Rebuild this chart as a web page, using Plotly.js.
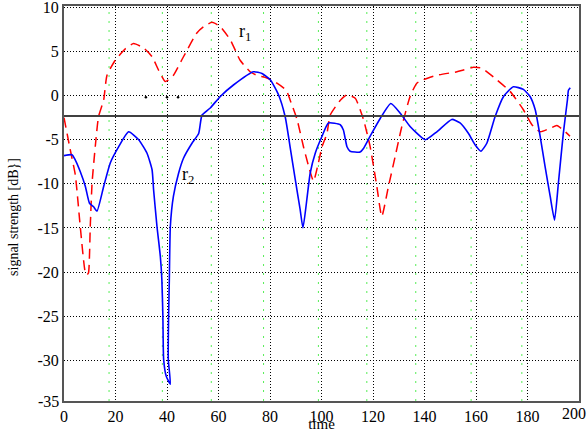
<!DOCTYPE html>
<html>
<head>
<meta charset="utf-8">
<script src="https://cdn.plot.ly/plotly-3.0.1.min.js"></script>
<style>html,body{margin:0;padding:0;background:#fff;}#chart{width:587px;height:432px;}</style>
</head>
<body>
<div id="chart"></div>
<script>
// r1 (red dashed)
const r1Time = [0, 2.4, 4.4, 6.3, 8.3, 8.9, 9.5, 10.2, 10.9, 12.2, 13.4, 15.4, 16.7, 19.9, 23.8, 27.0, 30.9, 34.2, 36.7, 39.3, 40.6, 42.5, 46.4, 51.6, 54.2, 57.5, 60.7, 64.6, 68.4, 72.3, 74.9, 78.8, 82.7, 86.3, 87.8, 90.5, 93.0, 95.0, 96.9, 98.8, 100.2, 102.1, 103.4, 107.4, 109.9, 113.1, 116.3, 118.9, 121.5, 123.4, 126.0, 128.6, 131.2, 134.4, 137.0, 139.6, 144.8, 152.6, 155.1, 159.0, 162.3, 166.8, 173.3, 178.4, 181.7, 184.9, 188.8, 191.4, 193.9, 196.5];
const r1Signal = [-2.5, -6.1, -9.0, -14.8, -20.1, -20.3, -20.1, -14.8, -9.9, -5.6, -2.4, -0.5, 2.3, 4.0, 5.3, 5.9, 5.4, 4.4, 2.9, 1.6, 1.8, 2.3, 4.4, 7.1, 7.8, 8.3, 7.8, 6.3, 4.0, 2.7, 2.3, 2.0, 1.4, 0.6, -0.5, -2.7, -5.8, -8.0, -9.7, -7.6, -5.8, -4.3, -2.2, -0.5, 0.1, -0.3, -2.7, -5.8, -10.3, -13.7, -10.3, -6.9, -3.5, -0.1, 1.4, 1.8, 2.3, 2.7, 2.9, 3.2, 3.1, 2.1, 0.45, -1.6, -3.3, -4.1, -3.7, -3.4, -3.9, -4.6];

// r2 (blue solid)
const r2Time = [0, 3.1, 4.4, 6.3, 8.3, 9.9, 11.5, 12.8, 15.4, 18.0, 21.2, 25.1, 29.0, 32.2, 34.2, 34.8, 36.1, 37.4, 38.0, 38.4, 38.7, 39.7, 41.3, 40.5, 40.6, 40.9, 41.3, 42.5, 44.5, 46.4, 49.7, 52.3, 53.6, 56.8, 60.7, 65.8, 73.6, 76.9, 80.1, 83.3, 85.9, 87.8, 89.8, 91.7, 92.8, 94.3, 95.6, 97.6, 100.2, 102.7, 107.3, 108.5, 109.9, 111.1, 115.0, 116.3, 118.9, 122.8, 126.9, 130.6, 134.4, 140.3, 144.8, 150.6, 153.8, 157.1, 159.7, 161.9, 164.2, 167.4, 170.7, 174.5, 178.4, 181.0, 183.0, 184.9, 186.8, 188.8, 190.5, 192.0, 193.9, 195.5, 195.9, 196.6];
const r2Signal = [-6.8, -6.7, -7.3, -8.6, -10.3, -12.2, -12.6, -13.1, -10.3, -7.6, -5.8, -4.1, -5.0, -6.5, -8.4, -10.7, -14.8, -18.2, -20.8, -25.0, -29.9, -31.8, -32.7, -29.9, -25.4, -20.9, -14.8, -11.4, -8.8, -7.1, -5.4, -4.3, -2.2, -1.4, -0.1, 1.2, 2.7, 2.5, 1.8, 0.1, -2.4, -5.8, -9.5, -12.9, -15.0, -11.8, -8.8, -6.5, -4.6, -3.1, -3.3, -3.9, -5.8, -6.3, -6.4, -6.0, -4.6, -2.6, -0.9, -2.0, -3.5, -5.0, -4.1, -2.7, -3.1, -4.3, -5.6, -6.3, -5.4, -2.4, -0.1, 1.0, 0.7, -0.1, -1.6, -4.6, -8.0, -11.4, -14.1, -9.9, -4.3, -0.5, 0.6, 0.9];

// small marker dots near 0 dB
const dotTime = [31.8, 40.0, 44.3];
const dotSignal = [-0.2, -0.2, -0.2];

// reference level line
const referenceLevel = -2.3;

// secondary (green) grid positions
const greenGrid = [17.5, 38.2, 57.2, 77.5, 98.8, 117.6, 136.6, 158.1, 177.8];

// tick values (200 and -35 are drawn as edge labels)
const xTicks = [0, 20, 40, 60, 80, 100, 120, 140, 160, 180];
const yTicks = [-30, -25, -20, -15, -10, -5, 0, 5, 10];
const xEdgeLabel = '200';
const yEdgeLabel = '-35';

const serif = "'Liberation Serif', 'Times New Roman', Times, serif";

const traces = [
  {x: r1Time, y: r1Signal, mode: 'lines', type: 'scatter',
   line: {color: '#ff0000', width: 1.5, dash: '10px,6px', shape: 'spline', smoothing: 0.5},
   hoverinfo: 'skip'},
  {x: r2Time, y: r2Signal, mode: 'lines', type: 'scatter',
   line: {color: '#0000ff', width: 1.6, shape: 'spline', smoothing: 0.5},
   hoverinfo: 'skip'},
  {x: dotTime, y: dotSignal, mode: 'markers', type: 'scatter',
   marker: {color: '#000', size: 2.5}, hoverinfo: 'skip'}
];

const shapes = greenGrid.map(g => ({
  type: 'line', xref: 'x', yref: 'paper', x0: g, x1: g, y0: 0, y1: 1,
  line: {color: '#55ee55', width: 1, dash: '2px,7px'}, layer: 'below'
}));
shapes.push({
  type: 'line', xref: 'paper', yref: 'y', x0: 0, x1: 1, y0: referenceLevel, y1: referenceLevel,
  line: {color: '#404040', width: 2}
});

const layout = {
  width: 587, height: 432,
  margin: {l: 64, r: 8, t: 6, b: 31},
  paper_bgcolor: '#fff', plot_bgcolor: '#fff',
  showlegend: false,
  font: {family: serif, color: '#000', size: 16},
  xaxis: {
    range: [0, 200], tickvals: xTicks, ticktext: xTicks.map(String),
    showgrid: true, gridcolor: '#000', griddash: '1px,2px', gridwidth: 1,
    zeroline: false, showline: true, linecolor: '#555', linewidth: 2, mirror: true,
    ticks: '', ticklabeloverflow: 'allow', tickfont: {family: serif, size: 16, color: '#000'},
    title: {text: 'time', font: {family: serif, size: 15, color: '#000'}, standoff: 3}
  },
  yaxis: {
    range: [-34.6, 10.15], tickvals: yTicks, ticktext: yTicks.map(String),
    showgrid: true, gridcolor: '#000', griddash: '1px,2px', gridwidth: 1,
    zeroline: false, showline: true, linecolor: '#555', linewidth: 2, mirror: true,
    ticks: '', ticklabeloverflow: 'allow', tickfont: {family: serif, size: 16, color: '#000'}
  },
  shapes: shapes,
  annotations: [
    {x: 70.4, y: 7.2, xref: 'x', yref: 'y', text: 'r<sub>1</sub>', showarrow: false,
     font: {family: serif, size: 18, color: '#000'}},
    {x: 48.3, y: -9.1, xref: 'x', yref: 'y', text: 'r<sub>2</sub>', showarrow: false,
     font: {family: serif, size: 18, color: '#000'}},
    {x: 0, y: 0, xref: 'paper', yref: 'paper', text: yEdgeLabel, showarrow: false,
     xanchor: 'right', yanchor: 'middle', xshift: -3,
     font: {family: serif, size: 16, color: '#000'}},
    {x: 1, y: 0, xref: 'paper', yref: 'paper', text: xEdgeLabel, showarrow: false,
     xanchor: 'right', yanchor: 'middle', xshift: 9, yshift: -12,
     font: {family: serif, size: 16, color: '#000'}},
    {x: 0, y: 0.466, xref: 'paper', yref: 'paper', text: 'signal strength [dB}]', showarrow: false,
     textangle: -90, xanchor: 'center', yanchor: 'middle', xshift: -50,
     font: {family: serif, size: 14, color: '#000'}}
  ]
};

Plotly.newPlot('chart', traces, layout, {staticPlot: true, displayModeBar: false});
</script>
</body>
</html>
